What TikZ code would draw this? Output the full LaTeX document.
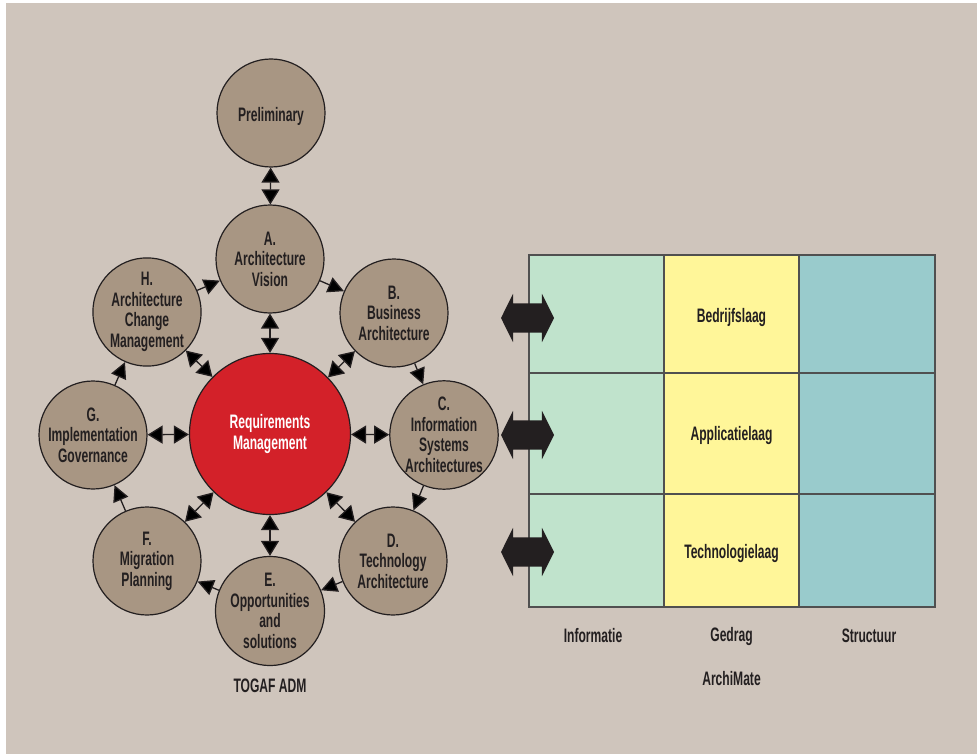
\documentclass[tikz,border=0pt]{standalone}
\usepackage{fontspec}
\setmainfont{Liberation Sans}[FakeStretch=0.62]
\usetikzlibrary{arrows.meta,shapes.arrows}
\definecolor{bgbeige}{RGB}{207,197,188}
\definecolor{phasebrown}{RGB}{168,150,131}
\definecolor{reqred}{RGB}{211,33,41}
\definecolor{infogreen}{RGB}{192,227,204}
\definecolor{gedragyellow}{RGB}{255,246,153}
\definecolor{structteal}{RGB}{153,203,204}
\definecolor{inkdark}{RGB}{35,31,32}
\definecolor{gridgray}{RGB}{80,80,80}

\begin{document}
\begin{tikzpicture}[x=1pt,y=-1pt,
  font=\fontsize{19.5}{20.5}\selectfont\bfseries,
  phase/.style={circle,draw=inkdark,line width=1.2pt,fill=phasebrown,minimum size=108pt,inner sep=0pt,align=center,text=inkdark},
  core/.style={circle,draw=inkdark,line width=1.2pt,fill=reqred,minimum size=161pt,inner sep=0pt,align=center,text=white},
  label/.style={text=inkdark,inner sep=0pt},
  ring/.style={draw=inkdark,line width=1.3pt,-{Triangle[length=16pt,width=16pt]}},
  spoke/.style={draw=inkdark,line width=1.3pt,{Triangle[length=15pt,width=18pt]}-{Triangle[length=15pt,width=18pt]}},
  bigarrow/.style={double arrow,fill=inkdark,inner xsep=0pt,inner ysep=14.5pt,minimum height=53pt,double arrow head extend=9.5pt,double arrow tip angle=127}
  ]
  \useasboundingbox (0,0) rectangle (977,754);
  \fill[white] (0,0) rectangle (977,754);
  \fill[bgbeige] (6,3) rectangle (977,754);

  % TOGAF ADM cycle
  \node[phase,text height=20pt,text depth=2pt] (pre) at (271,113) {Preliminary};
  \node[phase] (a) at (270,259) {A.\\Architecture\\Vision};
  \node[phase] (b) at (394,313) {B.\\Business\\Architecture};
  \node[phase] (c) at (444,435) {C.\\Information\\Systems\\Architectures};
  \node[phase] (d) at (393,561) {D.\\Technology\\Architecture};
  \node[phase] (e) at (270,611) {E.\\Opportunities\\and\\solutions};
  \node[phase] (f) at (147,561) {F.\\Migration\\Planning};
  \node[phase] (g) at (93,435) {G.\\Implementation\\Governance};
  \node[phase] (h) at (147,312) {H.\\Architecture\\Change\\Management};
  \node[core] (rm) at (270,434) {Requirements\\Management};
  \node[label] (togaf) at (270,686) {TOGAF ADM};

  \path[ring]
    (h) edge (a)
    (a) edge (b)
    (b) edge (c)
    (c) edge (d)
    (d) edge (e)
    (e) edge (f)
    (f) edge (g)
    (g) edge (h)
    ;
  \path[spoke]
    (pre) edge (a)
    (rm) edge (a)
    (rm) edge (b)
    (rm) edge (c)
    (rm) edge (d)
    (rm) edge (e)
    (rm) edge (f)
    (rm) edge (g)
    (rm) edge (h)
    ;

  % ArchiMate layers
  \fill[infogreen] (529,255) rectangle (664,607);
  \fill[gedragyellow] (664,255) rectangle (799,607);
  \fill[structteal] (799,255) rectangle (935,607);
  \draw[gridgray,line width=1.3pt] (529,255) rectangle (935,607)
    (664,255) -- (664,607) (799,255) -- (799,607)
    (529,373) -- (935,373) (529,494) -- (935,494);
  \node[label] (bedrijf) at (731.5,318) {Bedrijfslaag};
  \node[label] (applicatie) at (731.5,435) {Applicatielaag};
  \node[label] (techno) at (731.5,553) {Technologielaag};
  \node[label] (informatie) at (593,636) {Informatie};
  \node[label] (gedrag) at (731.5,636) {Gedrag};
  \node[label] (structuur) at (869,636) {Structuur};
  \node[label] (archimate) at (731.5,679) {ArchiMate};

  \node[bigarrow] (bedrijfarrow) at (527.5,318) {};
  \node[bigarrow] (applicatiearrow) at (527.5,435) {};
  \node[bigarrow] (technoarrow) at (527.5,552) {};
\end{tikzpicture}
\end{document}
